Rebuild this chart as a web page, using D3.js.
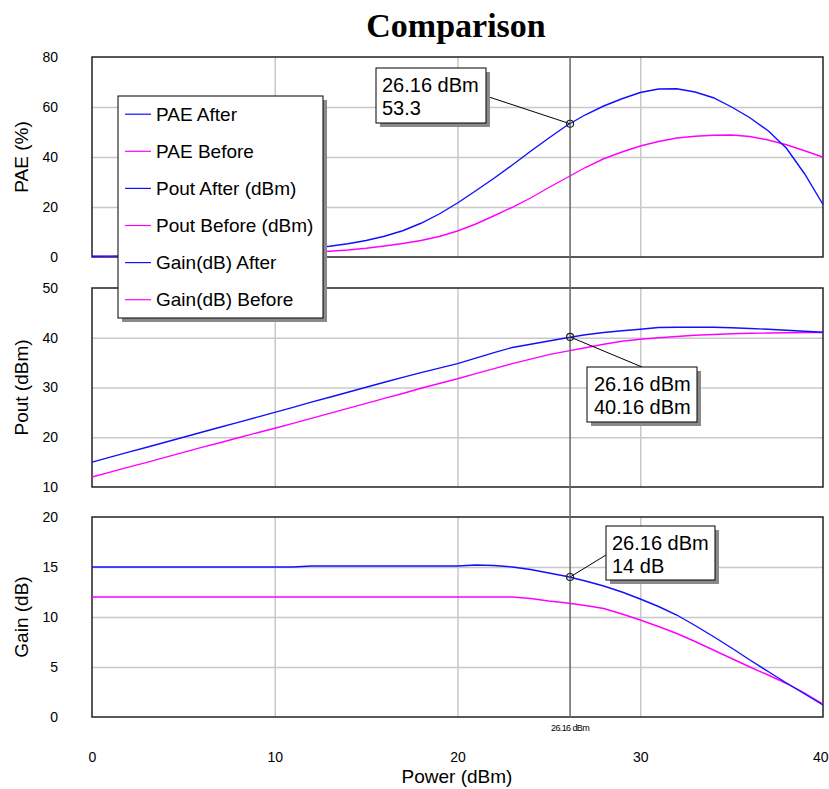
<!DOCTYPE html>
<html>
<head>
<meta charset="utf-8">
<script src="https://cdn.jsdelivr.net/npm/d3@7"></script>
<style>
  html, body { margin: 0; padding: 0; background: #fff; }
  svg { display: block; }
  text { font-family: "Liberation Sans", Arial, sans-serif; fill: #000; }
</style>
</head>
<body>
<svg id="chart" width="829" height="789"></svg>
<script>
// ---------------- DATA ----------------
const power = [0,1,2,3,4,5,6,7,8,9,10,11,12,13,14,15,16,17,18,19,20,21,22,23,24,25,26,27,28,29,30,31,32,33,34,35,36,37,38,39,40];

const paeAfter  = [0.3,0.35,0.4,0.5,0.6,0.8,1.0,1.3,1.6,2.0,2.5,3.0,3.6,4.3,5.3,6.6,8.3,10.5,13.5,17.2,21.6,26.5,31.5,36.8,42.3,47.6,52.7,56.9,60.4,63.3,65.8,67.2,67.3,66.0,63.7,60.0,55.7,50.5,43.5,33.2,21.0];
const paeBefore = [0.2,0.25,0.3,0.35,0.45,0.55,0.7,0.85,1.0,1.2,1.4,1.65,1.95,2.3,2.8,3.5,4.4,5.4,6.6,8.2,10.4,13.2,16.5,19.9,23.6,27.8,31.8,35.8,39.3,42.0,44.4,46.2,47.6,48.3,48.7,48.8,48.2,46.8,44.9,42.5,39.9];

const poutAfter  = [15.0,16.0,17.0,18.0,19.0,20.0,21.0,22.0,23.0,24.0,25.0,26.0,27.05,28.05,29.05,30.05,31.05,32.05,33.0,33.9,34.8,35.9,37.0,38.05,38.7,39.35,40.0,40.6,41.05,41.4,41.7,42.05,42.1,42.1,42.1,42.0,41.85,41.7,41.5,41.3,41.1];
const poutBefore = [12.0,13.0,14.0,14.95,15.95,16.95,17.95,18.9,19.9,20.85,21.8,22.8,23.8,24.8,25.8,26.8,27.8,28.8,29.85,30.8,31.75,32.8,33.8,34.8,35.7,36.6,37.3,38.0,38.7,39.3,39.7,40.0,40.25,40.5,40.65,40.8,40.9,40.95,41.0,41.05,41.05];

const gainAfter  = [15,15,15,15,15,15,15,15,15,15,15,15,15.1,15.1,15.1,15.1,15.1,15.1,15.1,15.1,15.1,15.2,15.15,15.0,14.75,14.4,14.05,13.6,13.1,12.5,11.8,11.05,10.2,9.15,8.05,6.9,5.7,4.55,3.4,2.3,1.2];
const gainBefore = [12,12,12,12,12,12,12,12,12,12,12,12,12,12,12,12,12,12,12,12,12,12,12,12,11.85,11.6,11.4,11.15,10.85,10.3,9.7,9.05,8.35,7.55,6.7,5.85,5.0,4.2,3.35,2.4,1.3];

const xTicks    = [0,10,20,30,40];
const paeTicks  = [0,20,40,60,80];
const poutTicks = [10,20,30,40,50];
const gainTicks = [0,5,10,15,20];

const legendLabels = ["PAE After","PAE Before","Pout After (dBm)","Pout Before (dBm)","Gain(dB) After","Gain(dB) Before"];
const markerX = 26.16;
const markerValues = [53.3, 40.16, 14];
const markerTexts = [["26.16 dBm","53.3"],["26.16 dBm","40.16 dBm"],["26.16 dBm","14 dB"]];

const titleText = "Comparison";
const xLabel = "Power (dBm)";
const yLabels = ["PAE (%)","Pout (dBm)","Gain (dB)"];

// ---------------- STYLE / LAYOUT ----------------
const BLUE = "#1010ff", MAGENTA = "#ff00ff", GRID = "#c8c8c8";
const svg = d3.select("#chart");
const x = d3.scaleLinear().domain([0,40]).range([92,823]);

const panels = [
  { top: 57,  bottom: 257, domain: [0,80],  ticks: paeTicks,  after: paeAfter,  before: paeBefore,  label: yLabels[0] },
  { top: 288, bottom: 487, domain: [10,50], ticks: poutTicks, after: poutAfter, before: poutBefore, label: yLabels[1] },
  { top: 517, bottom: 717, domain: [0,20],  ticks: gainTicks, after: gainAfter, before: gainBefore, label: yLabels[2] }
];
panels.forEach(p => p.y = d3.scaleLinear().domain(p.domain).range([p.bottom, p.top]));

// Title
svg.append("text").attr("x", 456).attr("y", 37).attr("text-anchor","middle")
  .style("font-family","'Liberation Serif','Times New Roman',serif").style("font-weight","bold")
  .style("font-size","34px").text(titleText);

panels.forEach((p, i) => {
  const g = svg.append("g");
  const h = p.bottom - p.top;
  // vertical grid
  g.append("g").attr("transform", `translate(0,${p.bottom})`)
    .call(d3.axisBottom(x).tickValues(xTicks.slice(1,-1)).tickSize(-h).tickFormat(""))
    .call(a => a.select(".domain").remove())
    .call(a => a.selectAll("line").attr("stroke", GRID).attr("stroke-width", 1.5));
  // horizontal grid
  g.append("g").attr("transform", `translate(${x.range()[0]},0)`)
    .call(d3.axisLeft(p.y).tickValues(p.ticks.slice(1,-1)).tickSize(-(x.range()[1]-x.range()[0])).tickFormat(""))
    .call(a => a.select(".domain").remove())
    .call(a => a.selectAll("line").attr("stroke", GRID).attr("stroke-width", 1.5));
  // y tick labels
  g.append("g").attr("transform", `translate(${x.range()[0]},0)`)
    .call(d3.axisLeft(p.y).tickValues(p.ticks).tickSize(0).tickPadding(34).tickFormat(d3.format("d")))
    .call(a => a.select(".domain").remove())
    .call(a => a.selectAll("text").style("font-size","14px").style("font-family","'Liberation Sans',Arial,sans-serif").attr("fill","#000"));
  // border
  g.append("rect").attr("x", x.range()[0]).attr("y", p.top)
    .attr("width", x.range()[1]-x.range()[0]).attr("height", h)
    .attr("fill","none").attr("stroke","#222").attr("stroke-width",1.5);
  // y label
  svg.append("text").attr("transform", `translate(28,${(p.top+p.bottom)/2}) rotate(-90)`)
    .attr("text-anchor","middle").style("font-size","19px").text(p.label);
  // curves
  const line = d3.line().x((d,j) => x(power[j])).y(d => p.y(d));
  g.append("path").datum(p.before).attr("d", line).attr("fill","none").attr("stroke", MAGENTA).attr("stroke-width",1.4);
  g.append("path").datum(p.after).attr("d", line).attr("fill","none").attr("stroke", BLUE).attr("stroke-width",1.4);
});

// x tick labels
svg.append("g").attr("transform", `translate(0,717)`)
  .call(d3.axisBottom(x).tickValues(xTicks).tickSize(0).tickPadding(35).tickFormat(d3.format("d")))
  .call(a => a.select(".domain").remove())
  .call(a => a.selectAll("text").style("font-size","14px").style("font-family","'Liberation Sans',Arial,sans-serif").attr("fill","#000"))
  .call(a => a.selectAll("text").filter(d => d === 40).attr("text-anchor","end").attr("x", 828 - x(40)));

// x label
svg.append("text").attr("x", 457).attr("y", 783).attr("text-anchor","middle")
  .style("font-size","19px").text(xLabel);

// marker vertical line
const mx = x(markerX);
svg.append("line").attr("x1", mx).attr("x2", mx).attr("y1", panels[0].top).attr("y2", panels[2].bottom + 1)
  .attr("stroke","#666").attr("stroke-width",1.5);
svg.append("text").attr("x", mx).attr("y", 731).attr("text-anchor","middle")
  .style("font-size","9px").style("letter-spacing","-0.6px").text(markerX + " dBm");

// marker boxes
const boxes = [
  { x: 376, y: 68,  w: 110, h: 55, tx: 382, lead: [486, 96] },
  { x: 587, y: 367, w: 110, h: 55, tx: 594, lead: [642, 367] },
  { x: 606, y: 526, w: 109, h: 54, tx: 612, lead: [606, 555] }
];
boxes.forEach((b, i) => {
  const my = panels[i].y(markerValues[i]);
  svg.append("line").attr("x1", b.lead[0]).attr("y1", b.lead[1]).attr("x2", mx).attr("y2", my)
    .attr("stroke","#000").attr("stroke-width",1);
  svg.append("circle").attr("cx", mx).attr("cy", my).attr("r", 3.5)
    .attr("fill","none").attr("stroke","#222").attr("stroke-width",1.2);
  svg.append("rect").attr("x", b.x+4).attr("y", b.y+4).attr("width", b.w).attr("height", b.h).attr("fill","#8a8a8a");
  svg.append("rect").attr("x", b.x).attr("y", b.y).attr("width", b.w).attr("height", b.h)
    .attr("fill","#fff").attr("stroke","#000").attr("stroke-width",1);
  markerTexts[i].forEach((t, k) => {
    svg.append("text").attr("x", b.tx).attr("y", b.y + 24 + k*23).style("font-size","20px").text(t);
  });
});

// legend
const lg = svg.append("g");
lg.append("rect").attr("x", 122).attr("y", 100).attr("width", 205).attr("height", 222).attr("fill","#8a8a8a");
lg.append("rect").attr("x", 118).attr("y", 96).attr("width", 205).attr("height", 222)
  .attr("fill","#fff").attr("stroke","#000").attr("stroke-width",1);
const legendColors = [BLUE, MAGENTA, BLUE, MAGENTA, BLUE, MAGENTA];
legendLabels.forEach((t, i) => {
  const by = 120.7 + i * 37.1;
  lg.append("line").attr("x1", 125).attr("x2", 151).attr("y1", by - 6.5).attr("y2", by - 6.5)
    .attr("stroke", legendColors[i]).attr("stroke-width", 1.2);
  lg.append("text").attr("x", 156).attr("y", by).style("font-size","19px").text(t);
});
</script>
</body>
</html>
